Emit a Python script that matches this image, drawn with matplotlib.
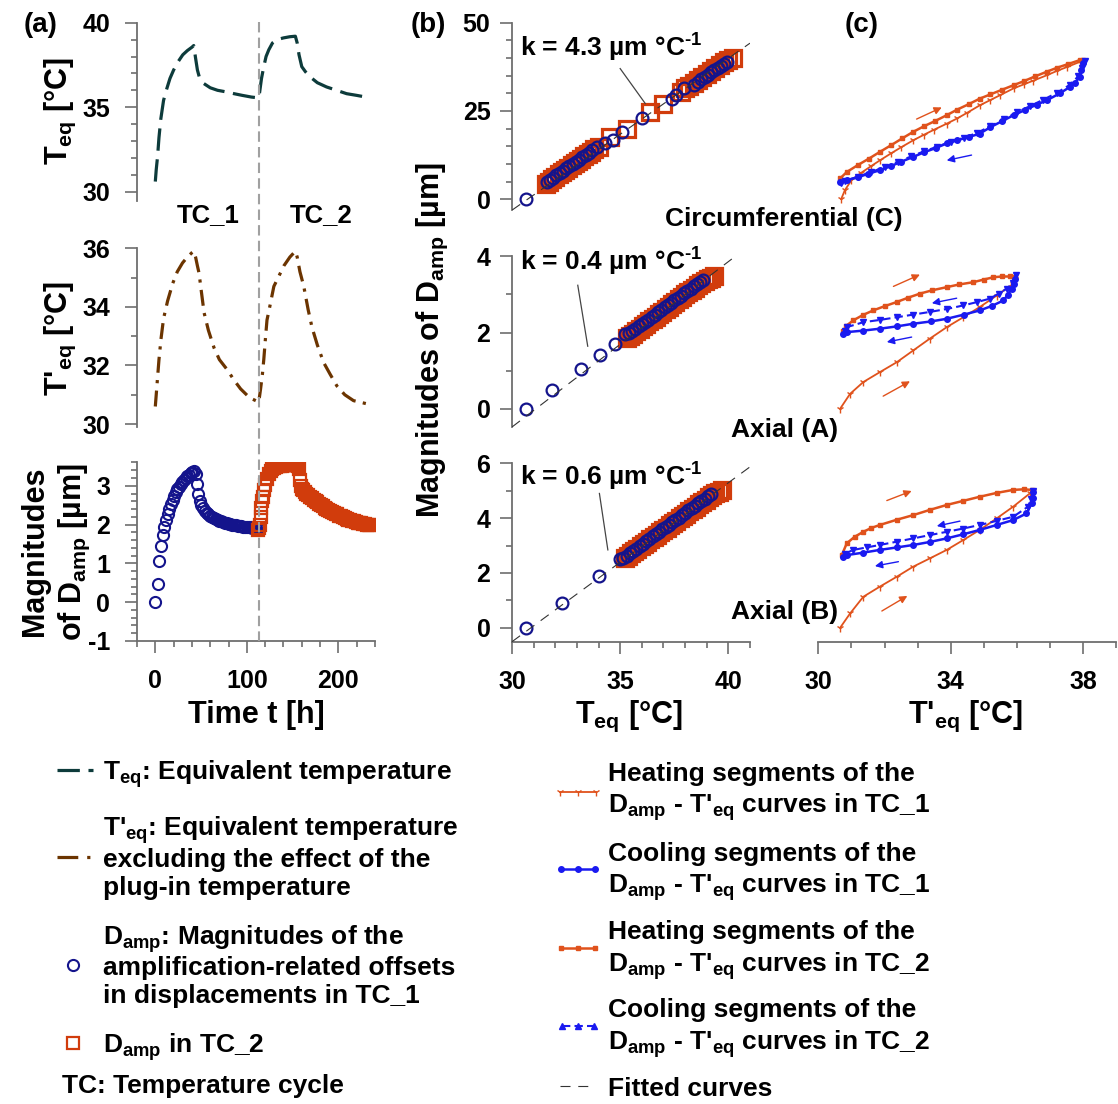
import matplotlib
matplotlib.use('Agg')
import matplotlib.pyplot as plt
import matplotlib.transforms as mtransforms
from matplotlib.lines import Line2D
from matplotlib.ticker import MultipleLocator, FixedLocator
import numpy as np

plt.rcParams['font.family'] = ['Liberation Sans', 'DejaVu Sans']
plt.rcParams['font.weight'] = 'bold'
plt.rcParams['mathtext.fontset'] = 'custom'
for k in ['rm', 'it', 'bf', 'sf']:
    plt.rcParams['mathtext.' + k] = 'Liberation Sans:bold'
plt.rcParams['axes.unicode_minus'] = False

# ---------------- data: panel (a) ----------------
teq_curve = [(0, 30.6), (1, 31.3), (2.5, 32.1), (4, 33.2), (6, 34.3), (9, 35.4), (12, 36.0),
             (16, 36.7), (20, 37.2), (25, 37.7), (30, 38.1), (35, 38.35), (40, 38.55), (42, 38.65),
             (44, 37.9), (46, 37.2), (48, 36.8), (53, 36.4), (60, 36.15), (68, 36.0), (78, 35.9),
             (86, 35.8), (95, 35.7), (105, 35.6), (113, 35.55), (114, 35.9), (116, 36.7),
             (118.5, 37.4), (121, 38.0), (124, 38.4), (128, 38.8), (133, 39.0), (140, 39.1),
             (147, 39.17), (153, 39.2), (155, 38.8), (157, 38.1), (160, 37.4), (164, 37.1),
             (169, 36.8), (177, 36.45), (187, 36.2), (198, 36.0), (209, 35.8), (220, 35.7), (230, 35.6)]

tpeq_curve = [(0, 30.6), (2, 31.4), (4, 32.2), (6.2, 32.9), (9, 33.6), (13.4, 34.2), (19, 34.8),
              (24, 35.2), (29.7, 35.5), (35, 35.7), (40, 35.85), (42, 35.9), (44, 35.7), (46, 35.4),
              (47.8, 35.15), (50, 34.6), (53.3, 33.8), (58, 33.2), (64.2, 32.6), (70, 32.2),
              (78.7, 31.85), (86, 31.5), (93.2, 31.2), (103, 30.9), (113, 30.75), (115, 31.2),
              (117, 31.7), (118.5, 32.2), (120, 32.8), (122, 33.55), (125, 34.0), (129.5, 34.7),
              (135, 35.05), (140.4, 35.4), (147, 35.7), (153, 35.9), (155, 35.7), (158, 35.2),
              (162.2, 34.7), (167, 33.9), (171.2, 33.3), (177, 32.7), (183.9, 32.1), (191, 31.7),
              (198.4, 31.3), (207, 31.0), (216.5, 30.8), (230, 30.7)]

damp_tc1 = [(0, 0.0), (2.5, 0.48), (4.4, 1.05), (6.2, 1.46), (8, 1.74), (9.8, 1.95), (11.6, 2.12),
            (13.4, 2.27), (15.2, 2.41), (17, 2.53), (18.8, 2.64), (20.6, 2.74), (22.4, 2.83),
            (24.2, 2.91), (26, 2.98), (27.8, 3.05), (29.6, 3.11), (31.4, 3.16), (33.2, 3.21),
            (35, 3.25), (36.8, 3.29), (38.6, 3.32), (40.4, 3.35), (42.2, 3.37), (44, 3.30),
            (45.8, 3.04), (47, 2.78), (48.5, 2.60), (50, 2.50), (52, 2.42), (54, 2.36), (56, 2.31),
            (58, 2.27), (60, 2.23), (62, 2.20), (64, 2.17), (66, 2.14), (68, 2.12), (70, 2.10),
            (72, 2.08), (74, 2.06), (76, 2.05), (78, 2.04), (80, 2.02), (82, 2.01), (84, 2.00),
            (86, 1.99), (88, 1.98), (90, 1.97), (92, 1.96), (94, 1.96), (96, 1.95), (98, 1.94),
            (100, 1.94), (102, 1.93), (104, 1.93), (106, 1.92), (108, 1.92), (110, 1.91), (112, 1.90)]

damp_tc2 = [(112, 1.86), (113, 1.90), (114, 2.00), (115, 2.20), (116, 2.42), (117, 2.60), (118, 2.72),
            (119, 2.88), (120, 3.02), (122, 3.18), (124, 3.30), (126, 3.38), (128, 3.43), (130, 3.46),
            (132, 3.48), (134, 3.50), (136, 3.51), (138, 3.52), (140, 3.53), (142, 3.53), (144, 3.54),
            (146, 3.54), (148, 3.54), (150, 3.54), (152, 3.54), (154, 3.53), (156, 3.50), (157, 3.42),
            (158, 3.15), (159, 3.00), (160, 2.92), (161, 2.88), (163, 2.84), (165, 2.80), (167, 2.76),
            (169, 2.72), (171, 2.68), (173, 2.64), (175, 2.60), (177, 2.57), (179, 2.54), (181, 2.50),
            (183, 2.47), (185, 2.44), (187, 2.41), (189, 2.38), (191, 2.35), (193, 2.33), (195, 2.30),
            (197, 2.28), (199, 2.26), (201, 2.23), (203, 2.21), (205, 2.19), (207, 2.17), (209, 2.15),
            (211, 2.13), (213, 2.11), (215, 2.10), (217, 2.08), (219, 2.06), (221, 2.05), (223, 2.04),
            (225, 2.03), (227, 2.02), (229, 2.01), (231, 2.00), (233, 1.99), (235, 1.98)]

cycle_split_t = 113
cycle_labels = ['TC_1', 'TC_2']

# ---------------- data: panel (b) ----------------
b_C_tc1 = [(30.65, 0.0), (31.6, 4.9), (31.75, 5.5), (31.9, 6.1), (32.05, 6.8), (32.2, 7.4), (32.35, 8.0),
           (32.5, 8.7), (32.65, 9.3), (32.8, 10.0), (32.95, 10.6), (33.1, 11.2), (33.25, 11.9),
           (33.4, 12.5), (33.55, 13.1), (33.7, 13.8), (33.92, 14.8), (34.3, 15.8), (34.69, 16.7),
           (35.08, 18.9), (36.0, 22.9), (37.39, 28.5), (37.6, 29.5), (37.93, 31.4), (38.39, 32.3),
           (38.6, 33.3), (38.75, 34.0), (38.9, 34.6), (39.05, 35.2), (39.2, 35.9), (39.35, 36.5),
           (39.5, 37.1), (39.65, 37.8), (39.8, 38.4), (39.95, 39.0)]
b_C_tc2 = [(31.55, 4.4), (31.7, 5.0), (31.85, 5.7), (32.0, 6.3), (32.15, 7.0), (32.3, 7.6), (32.45, 8.3),
           (32.6, 8.9), (32.75, 9.6), (32.9, 10.2), (33.05, 10.9), (33.2, 11.5), (33.35, 12.2),
           (33.5, 12.8), (33.65, 13.5), (33.8, 14.1), (34.0, 14.9), (34.54, 17.6), (35.31, 20.0),
           (36.39, 24.7), (37.0, 27.1), (37.8, 30.5), (38.0, 31.4), (38.2, 32.2), (38.4, 33.0),
           (38.6, 33.9), (38.8, 34.7), (39.0, 35.6), (39.2, 36.4), (39.4, 37.3), (39.6, 38.1),
           (39.8, 38.8), (40.0, 39.4), (40.2, 40.0)]
b_A_tc1 = [(30.65, 0.0), (31.87, 0.48), (33.2, 1.05), (34.07, 1.42), (34.77, 1.70), (35.23, 1.95),
           (35.4, 1.98), (35.55, 2.04), (35.7, 2.10), (35.85, 2.16), (36.0, 2.22), (36.15, 2.28),
           (36.3, 2.34), (36.45, 2.41), (36.6, 2.47), (36.75, 2.53), (36.9, 2.59), (37.05, 2.66),
           (37.2, 2.72), (37.35, 2.78), (37.5, 2.84), (37.65, 2.90), (37.8, 2.97), (37.95, 3.03),
           (38.1, 3.09), (38.25, 3.15), (38.4, 3.22), (38.55, 3.28), (38.7, 3.33), (38.85, 3.38)]
b_A_tc2 = [(35.3, 1.85), (35.45, 1.90), (35.6, 1.97), (35.75, 2.03), (35.9, 2.10), (36.05, 2.16),
           (36.2, 2.23), (36.35, 2.29), (36.5, 2.35), (36.65, 2.42), (36.8, 2.48), (36.95, 2.55),
           (37.1, 2.61), (37.25, 2.68), (37.4, 2.74), (37.55, 2.81), (37.7, 2.87), (37.85, 2.94),
           (38.0, 3.00), (38.15, 3.06), (38.3, 3.12), (38.45, 3.18), (38.6, 3.24), (38.75, 3.30),
           (38.9, 3.35), (39.05, 3.40), (39.2, 3.44), (39.35, 3.48)]
b_B_tc1 = [(30.65, 0.0), (32.33, 0.91), (34.03, 1.89), (35.0, 2.50), (35.15, 2.55), (35.3, 2.63),
           (35.45, 2.72), (35.6, 2.81), (35.75, 2.89), (35.9, 2.98), (36.05, 3.07), (36.2, 3.15),
           (36.35, 3.24), (36.5, 3.33), (36.65, 3.41), (36.8, 3.50), (36.95, 3.59), (37.1, 3.67),
           (37.25, 3.76), (37.4, 3.85), (37.55, 3.93), (37.7, 4.02), (37.85, 4.11), (38.0, 4.19),
           (38.15, 4.28), (38.3, 4.37), (38.45, 4.45), (38.6, 4.54), (38.75, 4.63), (38.9, 4.71),
           (39.05, 4.80), (39.2, 4.88)]
b_B_tc2 = [(35.2, 2.55), (35.35, 2.63), (35.5, 2.72), (35.65, 2.80), (35.8, 2.89), (35.95, 2.97),
           (36.1, 3.06), (36.25, 3.14), (36.4, 3.23), (36.55, 3.31), (36.7, 3.40), (36.85, 3.48),
           (37.0, 3.57), (37.15, 3.65), (37.3, 3.74), (37.45, 3.82), (37.6, 3.91), (37.75, 3.99),
           (37.9, 4.08), (38.05, 4.16), (38.2, 4.25), (38.35, 4.33), (38.5, 4.42), (38.65, 4.50),
           (38.8, 4.59), (38.95, 4.67), (39.1, 4.76), (39.25, 4.84), (39.4, 4.90), (39.55, 4.96),
           (39.7, 5.02)]

k_labels = ['4.3', '0.4', '0.6']
fit_slope = [4.3, 0.434, 0.58]
fit_at30 = [-3.1, -0.48, -0.51]
row_names = ['Circumferential (C)', 'Axial (A)', 'Axial (B)']

# ---------------- data: panel (c) ----------------
c_C_heat1 = [(30.69, 0.0), (30.8, 2.5), (31.0, 5.4), (31.3, 7.5), (31.6, 9.4), (31.86, 11.0), (32.2, 13.0),
             (32.5, 14.7), (32.87, 16.7), (33.2, 18.3), (33.5, 19.7), (33.88, 21.4), (34.2, 22.9),
             (34.5, 24.5), (34.88, 26.6), (35.2, 28.1), (35.5, 29.5), (35.9, 31.4), (36.2, 32.5),
             (36.5, 33.6), (36.9, 35.1), (37.2, 36.3), (37.5, 37.4), (37.9, 38.9), (38.0, 39.2)]
c_C_heat2 = [(30.66, 5.9), (30.86, 7.7), (31.2, 9.7), (31.53, 11.5), (31.86, 13.4), (32.2, 15.3),
             (32.53, 17.2), (32.87, 19.1), (33.2, 20.7), (33.54, 22.2), (33.88, 23.8), (34.2, 25.4),
             (34.54, 26.9), (34.88, 28.5), (35.2, 29.7), (35.55, 31.0), (35.9, 32.3), (36.2, 33.4),
             (36.55, 34.8), (36.9, 36.1), (37.2, 37.2), (37.55, 38.3), (37.9, 39.4), (38.0, 39.5)]
c_C_cool1 = [(38.0, 38.6), (37.95, 36.5), (37.9, 34.6), (37.75, 33.0), (37.6, 31.8), (37.3, 30.0),
             (36.9, 28.0), (36.6, 26.8), (36.25, 25.3), (35.9, 23.8), (35.55, 22.1), (35.2, 20.4),
             (34.88, 18.6), (34.55, 17.6), (34.2, 16.7), (33.88, 15.8), (33.55, 14.5), (33.2, 13.3),
             (32.87, 12.0), (32.5, 10.6), (32.2, 9.4), (31.86, 8.2), (31.5, 7.2), (31.2, 6.2),
             (30.86, 5.4), (30.66, 5.0)]
c_C_cool2 = [(38.05, 39.2), (37.98, 37.2), (37.85, 34.8), (37.6, 32.4), (37.2, 30.1), (36.8, 28.2),
             (36.4, 26.4), (36.0, 24.6), (35.6, 22.6), (35.2, 20.7), (34.8, 18.8), (34.4, 17.4),
             (34.0, 16.3), (33.6, 14.9), (33.2, 13.6), (32.8, 12.1), (32.4, 10.6), (32.0, 9.1),
             (31.6, 7.7), (31.2, 6.4), (30.8, 5.2), (30.68, 4.7)]

c_A_heat1 = [(30.66, 0.0), (30.96, 0.39), (31.36, 0.70), (31.86, 0.96), (32.37, 1.22), (32.87, 1.53),
             (33.37, 1.84), (33.88, 2.14), (34.38, 2.40), (34.88, 2.67), (35.39, 2.97), (35.89, 3.28),
             (35.94, 3.40)]
c_A_heat2 = [(30.76, 2.05), (30.85, 2.18), (31.06, 2.32), (31.35, 2.46), (31.66, 2.58), (32.0, 2.69),
             (32.37, 2.80), (32.7, 2.91), (33.07, 3.02), (33.45, 3.11), (33.88, 3.19), (34.25, 3.26),
             (34.68, 3.32), (35.0, 3.39), (35.29, 3.45), (35.55, 3.47), (35.79, 3.47), (35.94, 3.45)]
c_A_cool1 = [(35.94, 3.40), (35.9, 3.28), (35.84, 3.15), (35.72, 2.98), (35.59, 2.84), (35.25, 2.70),
             (34.88, 2.58), (34.4, 2.47), (33.88, 2.36), (33.4, 2.29), (32.87, 2.23), (32.37, 2.16),
             (31.86, 2.10), (31.36, 2.05), (30.86, 2.01), (30.76, 1.97)]
c_A_cool2 = [(35.96, 3.50), (35.88, 3.30), (35.69, 3.15), (35.45, 3.02), (35.19, 2.89), (34.8, 2.80),
             (34.38, 2.71), (33.9, 2.62), (33.37, 2.54), (32.87, 2.47), (32.37, 2.40), (31.86, 2.33),
             (31.36, 2.27), (30.86, 2.14), (30.8, 2.05)]

c_B_heat1 = [(30.66, 0.0), (30.96, 0.52), (31.36, 1.13), (31.86, 1.50), (32.37, 1.86), (32.87, 2.23),
             (33.37, 2.53), (33.88, 2.84), (34.38, 3.20), (34.88, 3.57), (35.39, 3.99), (35.89, 4.42),
             (36.39, 4.90), (36.5, 5.00)]
c_B_heat2 = [(30.71, 2.65), (30.86, 3.08), (31.1, 3.32), (31.36, 3.50), (31.6, 3.64), (31.86, 3.75),
             (32.37, 3.94), (32.87, 4.11), (33.37, 4.30), (33.88, 4.48), (34.38, 4.63), (34.88, 4.78),
             (35.39, 4.92), (35.89, 5.03), (36.2, 5.05), (36.45, 5.03)]
c_B_cool1 = [(36.5, 4.96), (36.48, 4.75), (36.45, 4.54), (36.29, 4.17), (35.89, 3.93), (35.39, 3.75),
             (34.88, 3.57), (34.38, 3.41), (33.88, 3.26), (33.37, 3.13), (32.87, 3.02), (32.37, 2.93),
             (31.86, 2.84), (31.36, 2.74), (30.86, 2.65), (30.76, 2.57)]
c_B_cool2 = [(36.5, 5.00), (36.42, 4.70), (36.34, 4.42), (35.89, 4.05), (35.39, 3.90), (34.88, 3.75),
             (34.38, 3.62), (33.88, 3.50), (33.37, 3.38), (32.87, 3.26), (32.37, 3.14), (31.86, 3.02),
             (31.46, 2.93), (31.06, 2.84), (30.8, 2.70)]

c_arrows_C = [('h', (32.97, 22.7), (33.73, 26.0)), ('c', (34.63, 12.5), (33.88, 11.0))]
c_arrows_A = [('h', (32.27, 3.21), (33.07, 3.52)), ('c', (34.18, 2.90), (33.43, 2.77)),
              ('c', (32.82, 1.88), (32.07, 1.75)), ('h', (31.96, 0.33), (32.77, 0.72))]
c_arrows_B = [('h', (32.07, 4.64), (32.82, 4.99)), ('c', (34.28, 3.89), (33.58, 3.71)),
              ('c', (32.42, 2.41), (31.71, 2.25)), ('h', (31.92, 0.61), (32.69, 1.16))]

# ---------------- styling ----------------
TEAL = '#0D3B3B'
BROWN = '#6B3400'
NAVY = '#14148C'
RED = '#D13C0C'
ORANGE = '#E0521C'
BLUE = '#1A1AF0'
SPINE = '#6E6E6E'

W, H = 1118, 1104
fig = plt.figure(figsize=(W / 100, H / 100), dpi=100)


def add_ax(l, t, r, b):
    return fig.add_axes([l / W, 1 - b / H, (r - l) / W, (b - t) / H])


def fxy(x, y):
    return x / W, 1 - y / H


def style(ax, left=True, bottom=False, ypad=9):
    for s in ['top', 'right']:
        ax.spines[s].set_visible(False)
    ax.spines['left'].set_visible(left)
    ax.spines['bottom'].set_visible(bottom)
    for s in ax.spines.values():
        s.set_color(SPINE)
        s.set_linewidth(1.3)
    ax.tick_params(which='both', direction='out', color=SPINE, width=1.2, labelsize=18)
    ax.tick_params(which='major', length=8.5)
    ax.tick_params(which='minor', length=4)
    ax.tick_params(axis='y', pad=ypad)
    ax.tick_params(axis='x', pad=12)
    if not left:
        ax.tick_params(axis='y', which='both', left=False, labelleft=False)
    if not bottom:
        ax.tick_params(axis='x', which='both', bottom=False, labelbottom=False)
    ax.patch.set_visible(False)


# ---------------- panel (a) ----------------
a1 = add_ax(137, 22.7, 375, 201)
a2 = add_ax(137, 248.3, 375, 426.7)
a3 = add_ax(137, 462.5, 375, 641)
for ax in (a1, a2, a3):
    ax.set_xlim(-20, 240)

t, v = zip(*teq_curve)
a1.plot(t, v, color=TEAL, lw=2.3, dashes=(7, 2.7))
a1.set_ylim(29.45, 40)
a1.yaxis.set_major_locator(FixedLocator([30, 35, 40]))
a1.yaxis.set_minor_locator(MultipleLocator(1))
style(a1, ypad=11)

t, v = zip(*tpeq_curve)
a2.plot(t, v, color=BROWN, lw=2.3, dashes=(5, 2.3, 1, 2.3))
a2.set_ylim(29.91, 36)
a2.yaxis.set_major_locator(FixedLocator([30, 32, 34, 36]))
a2.yaxis.set_minor_locator(MultipleLocator(1))
style(a2, ypad=11)

t, v = zip(*damp_tc1)
a3.plot(t, v, 'o', mfc='none', mec=NAVY, ms=8, mew=1.5, zorder=3)
t, v = zip(*damp_tc2)
a3.plot(t, v, 's', mfc='none', mec=RED, ms=9, mew=1.6, zorder=4)
a3.set_ylim(-1, 3.6)
a3.yaxis.set_major_locator(FixedLocator([-1, 0, 1, 2, 3]))
a3.yaxis.set_minor_locator(MultipleLocator(0.2))
a3.xaxis.set_major_locator(FixedLocator([0, 100, 200]))
a3.xaxis.set_minor_locator(MultipleLocator(20))
style(a3, bottom=True, ypad=11)

trans = mtransforms.blended_transform_factory(a3.transData, fig.transFigure)
fig.add_artist(Line2D([cycle_split_t, cycle_split_t], [1 - 22 / H, 1 - 641 / H], transform=trans,
                      color='#A0A0A0', lw=1.5, dashes=(5, 2.5)))

# ---------------- panels (b) and (c) ----------------
row_tops = [22.7, 256.3, 463.3]
row_bottoms = [209.8, 427.0, 641.7]
row_ylims = [(-3, 50), (-0.48, 4.0), (-0.51, 6.0)]
row_majors = [[0, 25, 50], [0, 2, 4], [0, 2, 4, 6]]
row_minors = [5, 1, 1]
b_data = [(b_C_tc1, b_C_tc2), (b_A_tc1, b_A_tc2), (b_B_tc1, b_B_tc2)]
c_data = [(c_C_heat1, c_C_cool1, c_C_heat2, c_C_cool2),
          (c_A_heat1, c_A_cool1, c_A_heat2, c_A_cool2),
          (c_B_heat1, c_B_cool1, c_B_heat2, c_B_cool2)]
c_arrows = [c_arrows_C, c_arrows_A, c_arrows_B]
k_text_y = [42.8, 3.84, 5.5]
leader = [((35.0, 37.0), (36.16, 27.1)), ((33.04, 3.24), (33.5, 1.64)), ((34.04, 4.9), (34.43, 2.84))]

for i in range(3):
    bottom = (i == 2)
    bx = add_ax(512, row_tops[i], 750, row_bottoms[i])
    cx = add_ax(818.3, row_tops[i], 1116.2, row_bottoms[i])
    for ax in (bx, cx):
        ax.set_ylim(*row_ylims[i])
        ax.yaxis.set_major_locator(FixedLocator(row_majors[i]))
        ax.yaxis.set_minor_locator(MultipleLocator(row_minors[i]))
    bx.set_xlim(30, 41)
    bx.xaxis.set_major_locator(FixedLocator([30, 35, 40]))
    bx.xaxis.set_minor_locator(MultipleLocator(1))
    cx.set_xlim(30, 39)
    cx.xaxis.set_major_locator(FixedLocator([30, 34, 38]))
    cx.xaxis.set_minor_locator(MultipleLocator(1))
    style(bx, left=True, bottom=bottom, ypad=7)
    style(cx, left=False, bottom=bottom)

    # fitted line
    xs = np.array([30.0, 41.0])
    bx.plot(xs, fit_at30[i] + fit_slope[i] * (xs - 30), color='#333333', lw=0.8, dashes=(9, 7), zorder=5)
    tc1, tc2 = b_data[i]
    x, y = zip(*tc2)
    bx.plot(x, y, 's', mfc='none', mec=RED, ms=11, mew=2.3, zorder=2)
    x, y = zip(*tc1)
    bx.plot(x, y, 'o', mfc='none', mec=NAVY, ms=8.5, mew=1.6, zorder=3)
    bx.text(30.37, k_text_y[i], 'k = %s µm °C$^{\u2010 1}$' % k_labels[i], fontsize=19,
            ha='left', va='center')
    (x0, y0), (x1, y1) = leader[i]
    bx.plot([x0, x1], [y0, y1], color='#444444', lw=0.9)

    heat1, cool1, heat2, cool2 = c_data[i]
    x, y = zip(*heat1)
    cx.plot(x, y, color=ORANGE, lw=1.3, marker='1', ms=6, mew=1.0, zorder=2)
    x, y = zip(*heat2)
    cx.plot(x, y, color=ORANGE, lw=1.8, marker='s', ms=3.5, zorder=3)
    x, y = zip(*cool1)
    cx.plot(x, y, color=BLUE, lw=1.8, marker='o', ms=4, zorder=4)
    x, y = zip(*cool2)
    cx.plot(x, y, color=BLUE, lw=1.5, dashes=(4, 2), marker='v', ms=5, zorder=4)
    for kind, start, end in c_arrows[i]:
        col = ORANGE if kind == 'h' else BLUE
        cx.annotate('', xy=end, xytext=start,
                    arrowprops=dict(arrowstyle='-|>', color=col, lw=1.0, mutation_scale=11,
                                    shrinkA=0, shrinkB=0))

# ---------------- texts ----------------
def T(x, y, s, **kw):
    kw.setdefault('fontsize', 19)
    fig.text(*fxy(x, y), s, **kw)


T(41, 25, '(a)', fontsize=20, ha='center', va='center')
T(428, 25, '(b)', fontsize=20, ha='center', va='center')
T(862, 25, '(c)', fontsize=20, ha='center', va='center')
T(208, 215, cycle_labels[0], fontsize=18.5, ha='center', va='center')
T(321, 215, cycle_labels[1], fontsize=18.5, ha='center', va='center')

T(903, 219, row_names[0], ha='right', va='center')
T(838, 430, row_names[1], ha='right', va='center')
T(838, 612, row_names[2], ha='right', va='center')

T(60, 111, 'T$_{eq}$ [°C]', fontsize=22, rotation=90, ha='center', va='center')
T(60, 338, "T'$_{eq}$ [°C]", fontsize=22, rotation=90, ha='center', va='center')
T(35, 551, 'Magnitudes', fontsize=22, rotation=90, ha='center', va='center')
T(74, 552, 'of D$_{amp}$ [µm]', fontsize=22, rotation=90, ha='center', va='center')
T(432, 340, 'Magnitudes of D$_{amp}$ [µm]', fontsize=22, rotation=90, ha='center', va='center')

T(256, 723, 'Time t [h]', fontsize=22, ha='center', va='baseline')
T(629, 723, 'T$_{eq}$ [°C]', fontsize=22, ha='center', va='baseline')
T(966, 723, "T'$_{eq}$ [°C]", fontsize=22, ha='center', va='baseline')

# ---------------- legend ----------------
def handle(xs, y, **kw):
    fx = [x / W for x in xs]
    fy = [1 - y / H] * len(xs)
    fig.add_artist(Line2D(fx, fy, transform=fig.transFigure, **kw))


handle([57, 93], 770, color=TEAL, lw=2.3, dashes=(7, 2.7))
handle([57, 94], 857, color=BROWN, lw=2.3, dashes=(6.5, 2.8, 1, 2.8))
handle([73], 965, ls='none', marker='o', mfc='none', mec=NAVY, ms=8, mew=1.5)
handle([73], 1043, ls='none', marker='s', mfc='none', mec=RED, ms=9, mew=1.6)

left_lines = [(770, 'T$_{eq}$: Equivalent temperature'),
              (826, "T'$_{eq}$: Equivalent temperature"),
              (857, 'excluding the effect of the'),
              (886, 'plug-in temperature'),
              (935, 'D$_{amp}$: Magnitudes of the'),
              (965, 'amplification-related offsets'),
              (994, 'in displacements in TC_1'),
              (1043, 'D$_{amp}$ in TC_2')]
for y, s in left_lines:
    T(103, y + 9.5, s, ha='left', va='baseline')
T(62, 1083 + 9.5, 'TC: Temperature cycle', ha='left', va='baseline')

handle([560, 578, 596], 792, color=ORANGE, lw=1.3, marker='1', ms=6, mew=1.0)
handle([561, 578, 595], 869, color=BLUE, lw=1.8, marker='o', ms=4)
handle([561, 578, 595], 948, color=ORANGE, lw=1.8, marker='s', ms=3.5)
handle([562, 578, 594], 1026, color=BLUE, lw=1.5, dashes=(4, 2), marker='^', ms=5)
handle([560, 593], 1086, color='#333333', lw=0.8, dashes=(9, 7))

right_lines = [(771, 'Heating segments of the'), (803, "D$_{amp}$ - T'$_{eq}$ curves in TC_1"),
               (851, 'Cooling segments of the'), (883, "D$_{amp}$ - T'$_{eq}$ curves in TC_1"),
               (930, 'Heating segments of the'), (962, "D$_{amp}$ - T'$_{eq}$ curves in TC_2"),
               (1008, 'Cooling segments of the'), (1040, "D$_{amp}$ - T'$_{eq}$ curves in TC_2"),
               (1086, 'Fitted curves')]
for y, s in right_lines:
    T(608, y + 9.5, s, ha='left', va='baseline')

fig.savefig('out.png', dpi=100)
